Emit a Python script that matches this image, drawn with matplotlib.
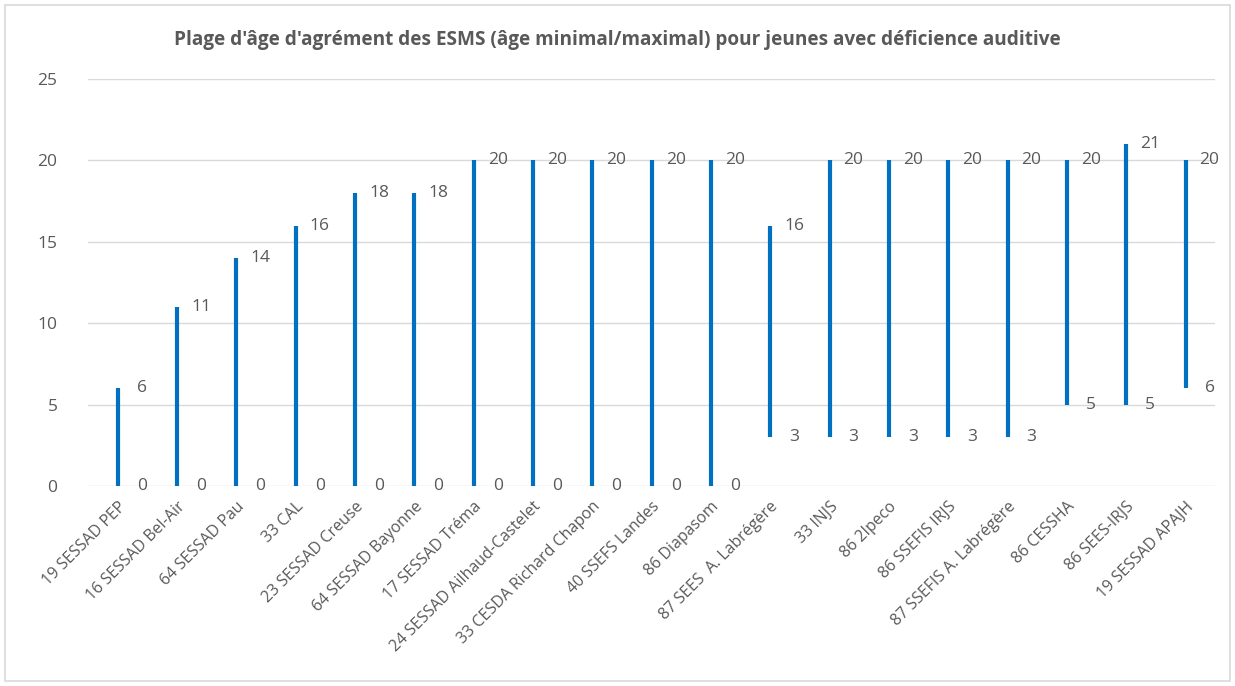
import matplotlib
matplotlib.use("Agg")
import matplotlib.pyplot as plt
from matplotlib.patches import Rectangle

# Données : âge minimal / maximal d'agrément par établissement
etablissements = [
    "19 SESSAD PEP", "16 SESSAD Bel-Air", "64 SESSAD Pau", "33 CAL",
    "23 SESSAD Creuse", "64 SESSAD Bayonne", "17 SESSAD Tréma",
    "24 SESSAD Ailhaud-Castelet", "33 CESDA Richard Chapon", "40 SSEFS Landes",
    "86 Diapasom", "87 SEES  A. Labrégère", "33 INJS", "86 2Ipeco",
    "86 SSEFIS IRJS", "87 SSEFIS A. Labrégère", "86 CESSHA", "86 SEES-IRJS",
    "19 SESSAD APAJH",
]
age_min = [0, 0, 0, 0, 0, 0, 0, 0, 0, 0, 0, 3, 3, 3, 3, 3, 5, 5, 6]
age_max = [6, 11, 14, 16, 18, 18, 20, 20, 20, 20, 20, 16, 20, 20, 20, 20, 20, 21, 20]

plt.rcParams["font.family"] = ["Open Sans", "DejaVu Sans"]
gris = "#595959"
bleu = "#0070C0"

fig = plt.figure(figsize=(12.35, 6.86), dpi=100)
fig.patches.append(Rectangle((0.004, 0.008), 0.992, 0.984, transform=fig.transFigure,
                             fill=False, edgecolor="#D9D9D9", linewidth=1.2))
ax = fig.add_axes([0.0713, 0.2915, 0.9127, 0.5933])

x = list(range(len(etablissements)))
ax.vlines(x, age_min, age_max, color=bleu, linewidth=3.0, zorder=3)

for xi, lo, hi in zip(x, age_min, age_max):
    ax.annotate(str(hi), (xi, hi), xytext=(24, 0), textcoords="offset pixels",
                ha="center", va="center", fontsize=12.5, color=gris)
    ax.annotate(str(lo), (xi, lo), xytext=(24, 0), textcoords="offset pixels",
                ha="center", va="center", fontsize=12.5, color=gris)

ax.set_xlim(-0.5, len(etablissements) - 0.5)
ax.set_ylim(0, 25)
ax.set_yticks(range(0, 26, 5))
ax.set_xticks(x)
ax.set_xticklabels(etablissements, rotation=45, ha="right", rotation_mode="anchor",
                   fontsize=11.5, color=gris)
ax.tick_params(axis="x", length=0, pad=9)
ax.tick_params(axis="y", length=0, pad=22, labelsize=12.5, labelcolor=gris)
ax.grid(axis="y", color="#D9D9D9", linewidth=1)
ax.set_axisbelow(True)
for s in ax.spines.values():
    s.set_visible(False)

fig.text(0.5, 0.942, "Plage d'âge d'agrément des ESMS (âge minimal/maximal) pour jeunes avec déficience auditive",
         ha="center", va="center", fontsize=13.7, fontweight="bold", color=gris)

fig.savefig("out.png", dpi=100)
